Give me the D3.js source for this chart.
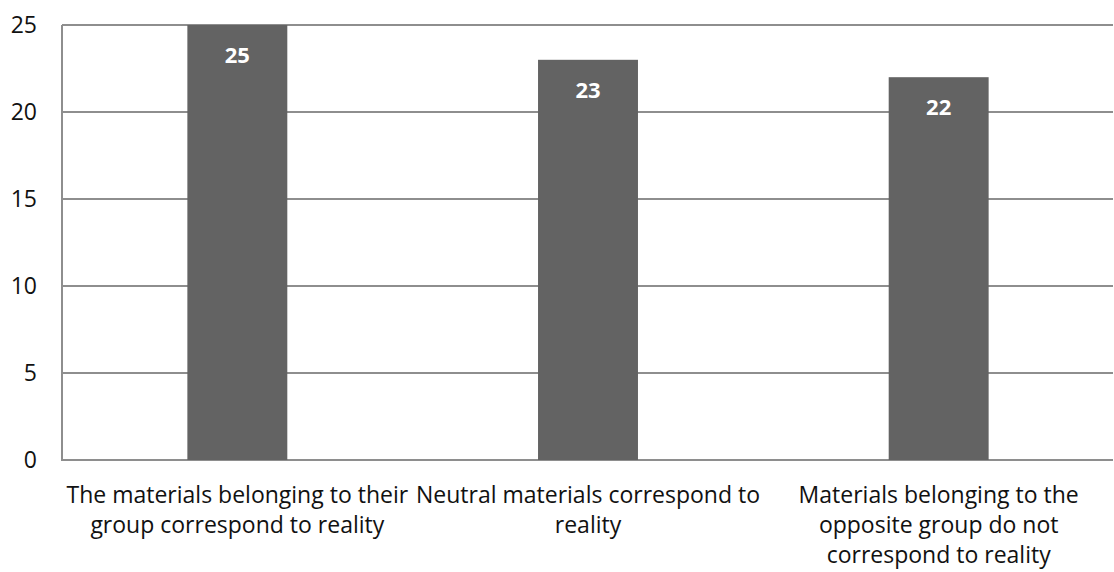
<!DOCTYPE html>
<html>
<head>
<meta charset="utf-8">
<script src="https://cdn.jsdelivr.net/npm/d3@7"></script>
<style>
  html, body { margin: 0; padding: 0; background: #fff; }
  svg { display: block; font-family: "Open Sans", "Liberation Sans", sans-serif; }
</style>
</head>
<body>
<svg id="chart" width="1114" height="572"></svg>
<script>
// chart data
var categories = [
  'The materials belonging to their group correspond to reality',
  'Neutral materials correspond to reality',
  'Materials belonging to the opposite group do not correspond to reality'
];
var values = [25, 23, 22];
var yTicks = [0, 5, 10, 15, 20, 25];

var plotLeft = 62, plotRight = 1114, plotTop = 25, plotBottom = 460;
var svg = d3.select('#chart');

var x = d3.scaleBand()
  .domain(categories)
  .range([plotLeft, plotRight])
  .paddingInner(0.715)
  .paddingOuter(0.3575);

var y = d3.scaleLinear().domain([0, 25]).range([plotBottom, plotTop]);

// gridlines
svg.append('g').selectAll('line')
  .data(yTicks)
  .enter().append('line')
    .attr('x1', plotLeft).attr('x2', plotRight - 1)
    .attr('y1', function(d) { return y(d); })
    .attr('y2', function(d) { return y(d); })
    .attr('stroke', '#8e8e8e')
    .attr('stroke-width', 2);

// y axis line
svg.append('line')
  .attr('x1', plotLeft).attr('x2', plotLeft)
  .attr('y1', plotTop).attr('y2', plotBottom + 1)
  .attr('stroke', '#8e8e8e')
  .attr('stroke-width', 2);

// y tick labels
svg.append('g').selectAll('text')
  .data(yTicks)
  .enter().append('text')
    .attr('x', 37)
    .attr('y', function(d) { return y(d); })
    .attr('dy', '0.35em')
    .attr('text-anchor', 'end')
    .attr('font-size', 23)
    .attr('fill', '#111')
    .text(function(d) { return d; });

// bars
svg.append('g').selectAll('rect')
  .data(values)
  .enter().append('rect')
    .attr('x', function(d, i) { return x(categories[i]); })
    .attr('y', function(d) { return y(d); })
    .attr('width', x.bandwidth())
    .attr('height', function(d) { return plotBottom - y(d); })
    .attr('fill', '#636363');

// value labels inside bars
svg.append('g').selectAll('text')
  .data(values)
  .enter().append('text')
    .attr('x', function(d, i) { return x(categories[i]) + x.bandwidth() / 2; })
    .attr('y', function(d) { return y(d) + 30; })
    .attr('dy', '0.35em')
    .attr('text-anchor', 'middle')
    .attr('font-size', 22)
    .attr('font-weight', 'bold')
    .attr('fill', '#fff')
    .text(function(d) { return d; });

// category labels, wrapped to the band step
var maxW = x.step();
var cat = svg.append('g').selectAll('text')
  .data(categories)
  .enter().append('text')
    .attr('x', function(d) { return x(d) + x.bandwidth() / 2; })
    .attr('y', 503)
    .attr('text-anchor', 'middle')
    .attr('font-size', 23)
    .attr('fill', '#111');

cat.each(function(d) {
  var t = d3.select(this), cx = +t.attr('x');
  var words = d.split(' '), line = [];
  var ts = t.append('tspan').attr('x', cx).attr('dy', 0);
  words.forEach(function(w) {
    line.push(w);
    ts.text(line.join(' '));
    if (ts.node().getComputedTextLength() > maxW && line.length > 1) {
      line.pop();
      ts.text(line.join(' '));
      line = [w];
      ts = t.append('tspan').attr('x', cx).attr('dy', 30).text(w);
    }
  });
});
</script>
</body>
</html>
